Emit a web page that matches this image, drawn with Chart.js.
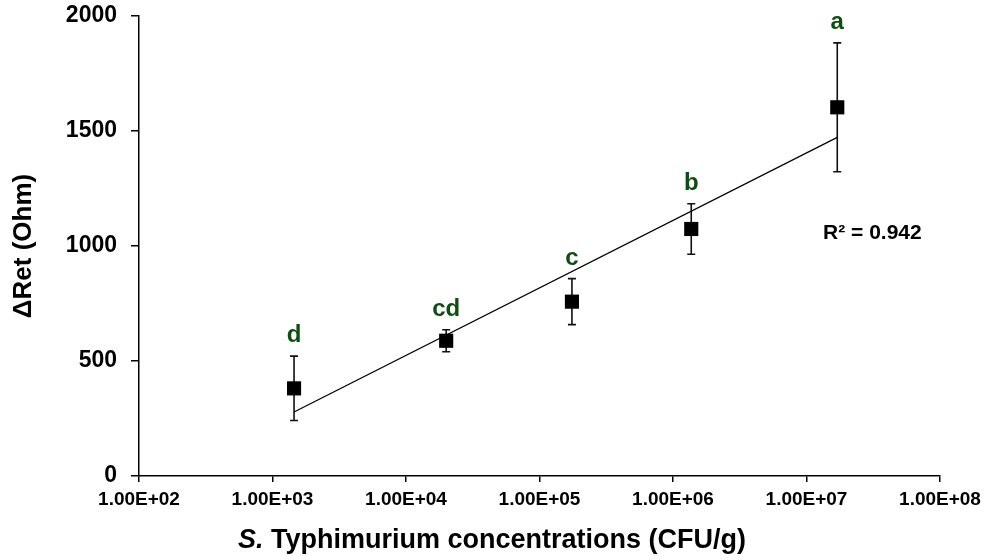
<!DOCTYPE html>
<html>
<head>
<meta charset="utf-8">
<script src="https://cdn.jsdelivr.net/npm/chart.js@4.4.0/dist/chart.umd.min.js"></script>
<style>
html, body { margin: 0; padding: 0; background: #fff; }
#wrap { width: 985px; height: 560px; }
</style>
</head>
<body>
<div id="wrap"><canvas id="chart" width="985" height="560"></canvas></div>
<script>
// values
const concentrations = [1.45e3, 2.0e4, 1.75e5, 1.37e6, 1.7e7];
const deltaRet = [381, 588, 758, 1074, 1603];
const errors = [140, 48, 100, 110, 280];
const groups = ['d', 'cd', 'c', 'b', 'a'];
const xTickValues = [1e2, 1e3, 1e4, 1e5, 1e6, 1e7, 1e8];
const xTickLabels = ['1.00E+02', '1.00E+03', '1.00E+04', '1.00E+05', '1.00E+06', '1.00E+07', '1.00E+08'];
const yTickValues = [0, 500, 1000, 1500, 2000];
const r2Text = 'R² = 0.942';

const FONT = "'Liberation Sans', Arial, sans-serif";
const green = '#0c4f10';

// log-linear trendline (least squares on log10 x)
const lx = concentrations.map(v => Math.log10(v));
const n = lx.length;
const mx = lx.reduce((a, b) => a + b, 0) / n;
const my = deltaRet.reduce((a, b) => a + b, 0) / n;
let sxy = 0, sxx = 0;
for (let i = 0; i < n; i++) {
    sxy += (lx[i] - mx) * (deltaRet[i] - my);
    sxx += (lx[i] - mx) * (lx[i] - mx);
}
const slope = sxy / sxx;
const intercept = my - slope * mx;
const trendX = [Math.min(...concentrations), Math.max(...concentrations)];
const trendData = trendX.map(x => ({ x: x, y: intercept + slope * Math.log10(x) }));

const pointData = concentrations.map((x, i) => ({ x: x, y: deltaRet[i] }));

const extras = {
    id: 'extras',
    beforeDatasetsDraw(chart) {
        const ctx = chart.ctx;
        const xs = chart.scales.x, ys = chart.scales.y;
        ctx.save();
        ctx.strokeStyle = '#111';
        ctx.lineWidth = 1.6;
        concentrations.forEach((c, i) => {
            const px = xs.getPixelForValue(c);
            const top = ys.getPixelForValue(deltaRet[i] + errors[i]);
            const bot = ys.getPixelForValue(deltaRet[i] - errors[i]);
            ctx.beginPath();
            ctx.moveTo(px, top); ctx.lineTo(px, bot);
            ctx.moveTo(px - 4, top); ctx.lineTo(px + 4, top);
            ctx.moveTo(px - 4, bot); ctx.lineTo(px + 4, bot);
            ctx.stroke();
        });
        ctx.restore();
    },
    afterDraw(chart) {
        const ctx = chart.ctx;
        const xs = chart.scales.x, ys = chart.scales.y;
        ctx.save();
        // group letters
        ctx.fillStyle = green;
        ctx.font = 'bold 24px ' + FONT;
        ctx.textAlign = 'center';
        ctx.textBaseline = 'alphabetic';
        concentrations.forEach((c, i) => {
            const px = xs.getPixelForValue(c);
            const top = ys.getPixelForValue(deltaRet[i] + errors[i]);
            ctx.fillText(groups[i], px, top - 14);
        });
        // R squared
        ctx.fillStyle = '#000';
        ctx.font = 'bold 21px ' + FONT;
        ctx.textAlign = 'left';
        ctx.textBaseline = 'middle';
        ctx.fillText(r2Text, xs.getPixelForValue(1.33e7), ys.getPixelForValue(1056));
        // x axis title with italic genus
        const part1 = 'S.';
        const part2 = ' Typhimurium concentrations (CFU/g)';
        ctx.font = 'italic bold 27px ' + FONT;
        const w1 = ctx.measureText(part1).width;
        ctx.font = 'bold 27px ' + FONT;
        const w2 = ctx.measureText(part2).width;
        const cx = 492;
        const startX = cx - (w1 + w2) / 2;
        ctx.textBaseline = 'alphabetic';
        ctx.font = 'italic bold 27px ' + FONT;
        ctx.fillText(part1, startX, 548);
        ctx.font = 'bold 27px ' + FONT;
        ctx.fillText(part2, startX + w1, 548);
        ctx.restore();
    }
};

const chart = new Chart(document.getElementById('chart'), {
    type: 'scatter',
    data: {
        datasets: [{
            label: 'means',
            data: pointData,
            pointStyle: 'rect',
            pointRadius: 10,
            backgroundColor: '#000',
            borderColor: '#000',
            borderWidth: 0
        }, {
            label: 'trend',
            type: 'line',
            data: trendData,
            borderColor: '#000',
            borderWidth: 1.2,
            pointRadius: 0,
            fill: false,
            tension: 0
        }]
    },
    options: {
        responsive: false,
        animation: false,
        devicePixelRatio: 1,
        layout: { padding: { top: 16, right: 45, left: 0, bottom: 0 } },
        plugins: {
            legend: { display: false },
            tooltip: { enabled: false }
        },
        scales: {
            x: {
                type: 'logarithmic',
                min: 1e2,
                max: 1e8,
                afterBuildTicks: scale => { scale.ticks = xTickValues.map(v => ({ value: v })); },
                afterFit: scale => { scale.height = 84; scale.paddingLeft = 0; scale.paddingRight = 0; },
                ticks: {
                    autoSkip: false,
                    maxRotation: 0,
                    color: '#000',
                    font: { family: FONT, size: 19, weight: 'bold' },
                    padding: 6,
                    callback: (v) => xTickLabels[xTickValues.indexOf(v)]
                },
                grid: { drawOnChartArea: false, drawTicks: true, tickLength: 6, color: '#000', lineWidth: 1.5 },
                border: { display: true, color: '#000', width: 1.5 }
            },
            y: {
                min: 0,
                max: 2000,
                afterBuildTicks: scale => { scale.ticks = yTickValues.map(v => ({ value: v })); },
                afterFit: scale => { scale.width = 139; scale.paddingTop = 0; scale.paddingBottom = 0; },
                ticks: {
                    color: '#000',
                    font: { family: FONT, size: 23, weight: 'bold' },
                    padding: 14,
                    callback: (v) => String(v)
                },
                title: {
                    display: true,
                    text: 'ΔRet (Ohm)',
                    color: '#000',
                    font: { family: FONT, size: 26, weight: 'bold' },
                    padding: { top: 8, bottom: 0 }
                },
                grid: { drawOnChartArea: false, drawTicks: true, tickLength: 8, color: '#000', lineWidth: 1.5 },
                border: { display: true, color: '#000', width: 1.5 }
            }
        }
    },
    plugins: [extras]
});
</script>
</body>
</html>
